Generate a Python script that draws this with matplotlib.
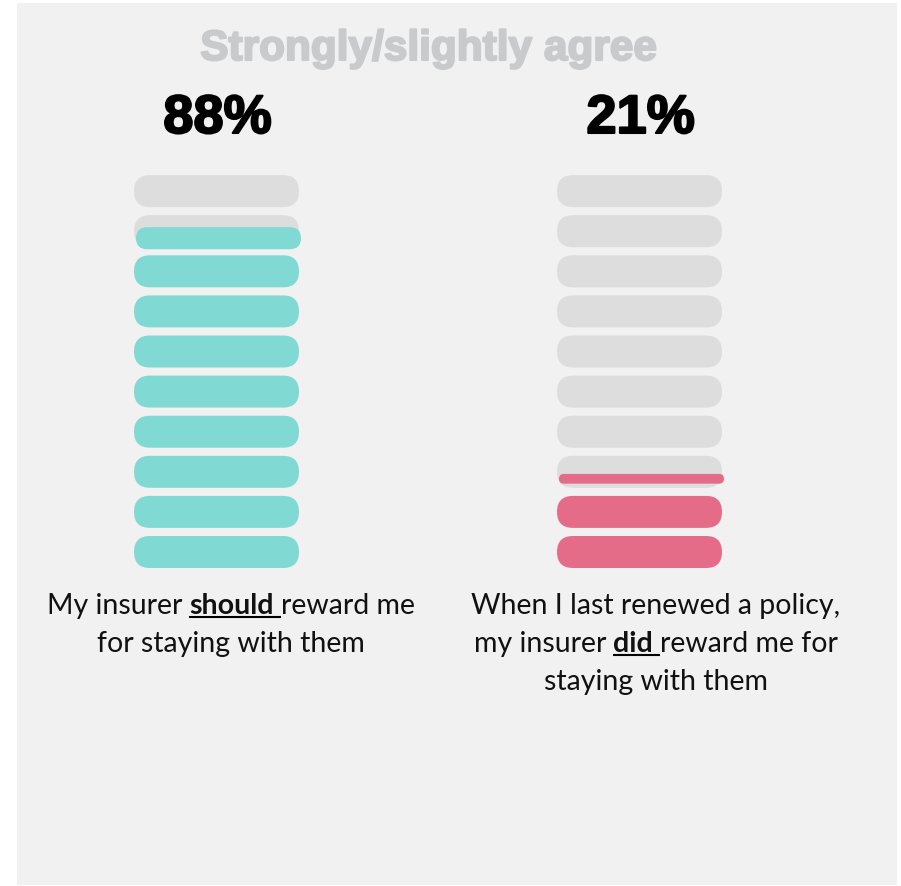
import matplotlib
matplotlib.use('Agg')
import matplotlib.pyplot as plt
from matplotlib.patches import FancyBboxPatch, Rectangle
from matplotlib import patheffects

# data
title = 'Strongly/slightly agree'
values = [88, 21]
fill_colors = ['#80DAD3', '#E56C89']
# each label: list of lines, each line a list of (text, emphasised)
labels = [
    [[('My insurer', False), ('should', True), ('reward me', False)],
     [('for staying with them', False)]],
    [[('When I last renewed a policy,', False)],
     [('my insurer', False), ('did', True), ('reward me for', False)],
     [('staying with them', False)]],
]
n_steps = 10

# layout (pixel coords)
W, H = 901, 886
bar_cx = [216.5, 639.5]
label_cx = [231, 656]
bar_w, bar_h = 165, 32
bottom_cy, pitch = 552, 40.1
empty_color = '#DDDDDD'
label_font = 'Lato'
label_size = 20.5

fig = plt.figure(figsize=(W / 100, H / 100), dpi=100)
ax = fig.add_axes([0, 0, 1, 1])
ax.set_xlim(0, W)
ax.set_ylim(H, 0)
ax.axis('off')

ax.add_patch(Rectangle((17, 3), 880, 882, facecolor='#F1F1F1', edgecolor='none'))


def pill(cx, cy, w, h, color, z=2):
    ax.add_patch(FancyBboxPatch((cx - w / 2, cy - h / 2), w, h,
                                boxstyle=f'round,pad=0,rounding_size={h / 2}',
                                facecolor=color, edgecolor='none', zorder=z))


for cx, value, color in zip(bar_cx, values, fill_colors):
    full = value // 10
    frac = value / 10 - full
    for i in range(n_steps):
        cy = bottom_cy - i * pitch
        if i < full:
            pill(cx, cy, bar_w, bar_h, color)
        else:
            pill(cx, cy, bar_w, bar_h, empty_color)
            if i == full and frac > 0:
                ph = bar_h * (0.25 + 0.55 * frac)
                pill(cx + 2, cy + 7, bar_w, ph, color, z=3)

# title and percentages
ax.text(429, 60, title, ha='center', va='baseline', fontsize=30.5,
        family='Liberation Sans', weight='bold', color='#C9CACC',
        path_effects=[patheffects.withStroke(linewidth=1.5, foreground='#C9CACC')])
for cx, value in zip(bar_cx, values):
    ax.text(cx + 1, 133, f'{value}%', ha='center', va='baseline', fontsize=39,
            family='Liberation Sans', weight='bold', color='black',
            path_effects=[patheffects.withStroke(linewidth=1.5, foreground='black')])

# labels with underlined emphasis
renderer = fig.canvas.get_renderer()


def text_width(s, weight):
    t = ax.text(0, 0, s, fontsize=label_size, family=label_font, weight=weight)
    w = t.get_window_extent(renderer).width
    t.remove()
    return w


space_w = text_width('x x', 'normal') - text_width('xx', 'normal')
line_gap = 38
for cx, lines in zip(label_cx, labels):
    for j, parts in enumerate(lines):
        y = 614 + j * line_gap
        widths = [text_width(s, 'bold' if emph else 'normal') for s, emph in parts]
        total = sum(widths) + space_w * (len(parts) - 1)
        x = cx - total / 2
        for (s, emph), w in zip(parts, widths):
            ax.text(x, y, s, ha='left', va='baseline', fontsize=label_size,
                    family=label_font, weight='bold' if emph else 'normal',
                    color='#111111')
            if emph:
                ax.plot([x, x + w + space_w], [y + 3, y + 3], color='black', lw=1.5,
                        solid_capstyle='butt')
            x += w + space_w

fig.savefig('out.png', dpi=100)
plt.close('all')
